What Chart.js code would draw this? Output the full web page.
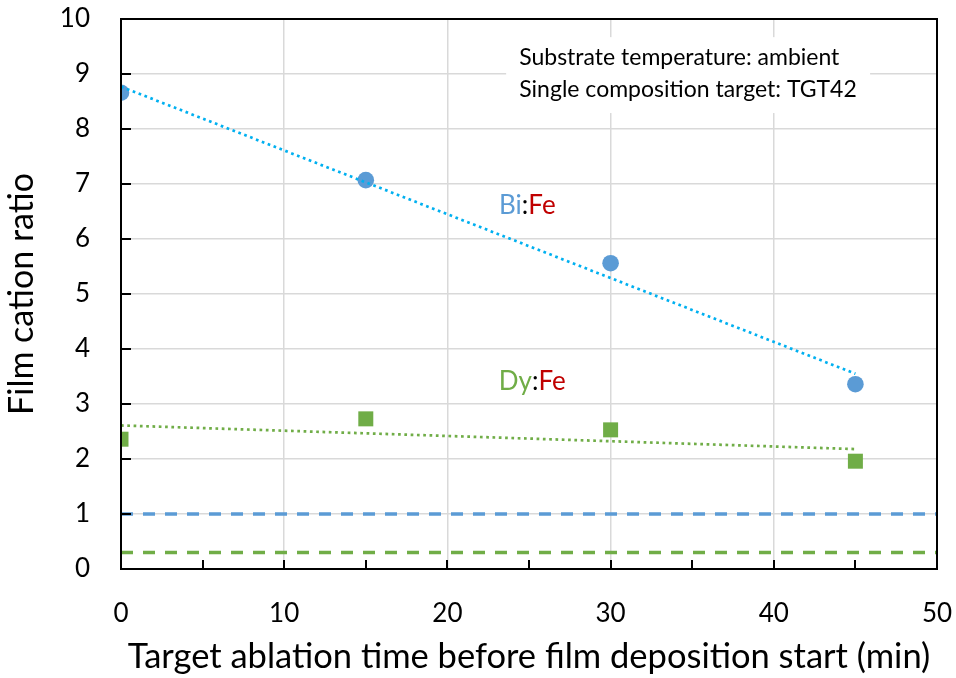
<!DOCTYPE html>
<html>
<head>
<meta charset="utf-8">
<script src="https://cdn.jsdelivr.net/npm/chart.js@4.4.1/dist/chart.umd.min.js"></script>
<style>
  html, body { margin: 0; padding: 0; background: #ffffff; }
  #wrap { width: 956px; height: 678px; }
</style>
</head>
<body>
<div id="wrap"><canvas id="c" width="956" height="678"></canvas></div>
<script>
// Ablation time before deposition start (min)
const times = [0, 15, 30, 45];
// Measured film cation ratios
const biFe = [8.66, 7.07, 5.56, 3.36];
const dyFe = [2.36, 2.73, 2.53, 1.96];
// Linear trend endpoints at 0 and 45 min
const trendTimes = [0, 45];
const biFeTrend = [8.77, 3.55];
const dyFeTrend = [2.61, 2.18];
// Target (nominal) ratios
const biFeTarget = 1.0;
const dyFeTarget = 0.3;
// Axis limits
const xRange = [0, 50];
const yRange = [0, 10];

const FONT = 'Lato, "Open Sans", "DejaVu Sans", sans-serif';
const BLUE = '#5b9bd5';
const GREEN = '#70ad47';
const TREND_BLUE = '#00b0f0';
const RED = '#c00000';

const pts = (xs, ys) => xs.map((x, i) => ({ x: x, y: ys[i] }));
const flat = (v) => xRange.map(x => ({ x: x, y: v }));

// Inward tick marks, plot frame, note box and ratio labels
const decorations = {
  id: 'decorations',
  beforeDatasetsDraw(chart) {
    const { ctx, scales: { x, y } } = chart;
    ctx.save();
    // note box (white, hides grid lines)
    const bx0 = x.getPixelForValue(23.6), bx1 = x.getPixelForValue(45.9);
    const by0 = y.getPixelForValue(9.67), by1 = y.getPixelForValue(8.29);
    ctx.fillStyle = '#ffffff';
    ctx.fillRect(bx0, by0, bx1 - bx0, by1 - by0);
    ctx.fillStyle = '#000000';
    ctx.font = '23px ' + FONT;
    ctx.textBaseline = 'middle';
    ctx.textAlign = 'left';
    const tx = x.getPixelForValue(24.4);
    ctx.fillText('Substrate temperature: ambient', tx, y.getPixelForValue(9.3));
    ctx.fillText('Single composition target: TGT42', tx, y.getPixelForValue(8.72));
    ctx.restore();
  },
  afterDatasetsDraw(chart) {
    const { ctx, scales: { x, y }, chartArea: a } = chart;
    ctx.save();
    // multi-coloured ratio labels
    const drawParts = (parts, cx, cy) => {
      ctx.font = '26px ' + FONT;
      ctx.textBaseline = 'middle';
      ctx.textAlign = 'left';
      const w = parts.reduce((s, p) => s + ctx.measureText(p[0]).width, 0);
      let px = cx - w / 2;
      parts.forEach(p => {
        ctx.fillStyle = p[1];
        ctx.fillText(p[0], px, cy);
        px += ctx.measureText(p[0]).width;
      });
    };
    drawParts([['Bi', BLUE], [':', '#000000'], ['Fe', RED]], x.getPixelForValue(24.9), y.getPixelForValue(6.6));
    drawParts([['Dy', GREEN], [':', '#000000'], ['Fe', RED]], x.getPixelForValue(25.2), y.getPixelForValue(3.4));

    // frame
    ctx.strokeStyle = '#000000';
    ctx.lineWidth = 2;
    ctx.strokeRect(a.left, a.top, a.right - a.left, a.bottom - a.top);
    // inward ticks
    ctx.beginPath();
    for (let v = yRange[0]; v <= yRange[1]; v += 1) {
      const py = Math.round(y.getPixelForValue(v));
      ctx.moveTo(a.left, py); ctx.lineTo(a.left + 10, py);
    }
    for (let v = xRange[0] + 5; v < xRange[1]; v += 5) {
      const px = Math.round(x.getPixelForValue(v));
      ctx.moveTo(px, a.bottom); ctx.lineTo(px, a.bottom - 9);
    }
    ctx.stroke();
    ctx.restore();
  }
};

new Chart(document.getElementById('c'), {
  type: 'scatter',
  data: {
    datasets: [
      {
        label: 'Bi:Fe target', data: flat(biFeTarget), showLine: true,
        borderColor: BLUE, borderWidth: 3.5, borderDash: [12, 10], pointRadius: 0
      },
      {
        label: 'Dy:Fe target', data: flat(dyFeTarget), showLine: true,
        borderColor: GREEN, borderWidth: 3.5, borderDash: [12, 10], pointRadius: 0
      },
      {
        label: 'Bi:Fe trend', data: pts(trendTimes, biFeTrend), showLine: true,
        borderColor: TREND_BLUE, borderWidth: 2.7, borderDash: [2.7, 3.6], pointRadius: 0
      },
      {
        label: 'Dy:Fe trend', data: pts(trendTimes, dyFeTrend), showLine: true,
        borderColor: GREEN, borderWidth: 2.7, borderDash: [2.7, 3.6], pointRadius: 0
      },
      {
        label: 'Bi:Fe', data: pts(times, biFe), showLine: false,
        pointStyle: 'circle', pointRadius: 8.3, backgroundColor: BLUE, borderColor: BLUE, borderWidth: 0
      },
      {
        label: 'Dy:Fe', data: pts(times, dyFe), showLine: false,
        pointStyle: 'rect', pointRadius: 10.6, backgroundColor: GREEN, borderColor: GREEN, borderWidth: 0
      }
    ]
  },
  options: {
    responsive: false,
    animation: false,
    layout: { autoPadding: false, padding: { top: 19, right: 19, left: 0, bottom: 0 } },
    plugins: { legend: { display: false }, tooltip: { enabled: false } },
    scales: {
      x: {
        type: 'linear', min: xRange[0], max: xRange[1],
        afterFit: (s) => { s.height = 109; s.paddingLeft = 0; s.paddingRight = 0; },
        grid: { color: '#d9d9d9', lineWidth: 1.5, drawTicks: false },
        border: { display: false },
        ticks: { stepSize: 10, padding: 29, color: '#000000', font: { family: FONT, size: 26 } },
        title: { display: true, text: 'Target ablation time before film deposition start (min)',
                 color: '#000000', font: { family: FONT, size: 34.5 }, padding: { top: 0, bottom: 0 } }
      },
      y: {
        type: 'linear', min: yRange[0], max: yRange[1],
        afterFit: (s) => { s.width = 121; s.paddingTop = 0; s.paddingBottom = 0; },
        grid: { color: '#d9d9d9', lineWidth: 1.5, drawTicks: false },
        border: { display: false },
        ticks: { stepSize: 1, padding: 31, color: '#000000', font: { family: FONT, size: 26 } },
        title: { display: true, text: 'Film cation ratio',
                 color: '#000000', font: { family: FONT, size: 34 }, padding: { top: 2, bottom: 0 } }
      }
    }
  },
  plugins: [decorations]
});
</script>
</body>
</html>
